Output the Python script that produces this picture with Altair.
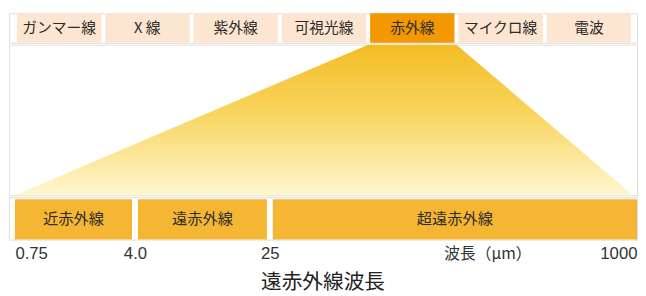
import altair as alt
import pandas as pd

# ---- data ----
spectrum = ["ガンマー線", "X 線", "紫外線", "可視光線", "赤外線", "マイクロ線", "電波"]
highlight = "赤外線"
ir_bands = ["近赤外線", "遠赤外線", "超遠赤外線"]
band_start = [0.75, 4.0, 25]
band_end = [4.0, 25, 1000]
tick_values = [0.75, 4.0, 25, 1000]
tick_labels = ["0.75", "4.0", "25", "1000"]
axis_title = "波長（μm）"
chart_title = "遠赤外線波長"

JP = "Noto Sans CJK JP"
W = 638
n = len(spectrum)

top_df = pd.DataFrame({"name": spectrum, "i": list(range(n))})
top_df["i1"] = top_df["i"] + 1
top_df["mid"] = top_df["i"] + 0.5

hi = spectrum.index(highlight)
funnel_df = pd.DataFrame({"level": [1, 0], "lo": [hi, 0], "hi": [hi + 1, n]})

ir_df = pd.DataFrame({"name": ir_bands, "start": band_start, "end": band_end})
ir_df["mid"] = (ir_df["start"] + ir_df["end"]) / 2

idx_scale = alt.Scale(domain=[0, n], range=[6, 634], nice=False, zero=False)
wl_scale = alt.Scale(type="linear", domain=tick_values, range=[3, 128, 265, 641], nice=False, zero=False)

# ---- top row ----
top_rect = alt.Chart(top_df).mark_rect(xOffset=2, x2Offset=-2).encode(
    x=alt.X("i:Q", scale=idx_scale, axis=None),
    x2="i1:Q",
    color=alt.condition(alt.datum.name == highlight, alt.value("#f39800"), alt.value("#fce5d1")),
)
top_text = alt.Chart(top_df).mark_text(font=JP, fontSize=15, color="#2b2b2b").encode(
    x=alt.X("mid:Q", scale=idx_scale, axis=None),
    text="name:N",
)
panel_a = alt.layer(top_rect, top_text).properties(width=W, height=30)

# ---- funnel ----
grad = alt.Gradient(
    gradient="linear",
    stops=[
        alt.GradientStop(color="#f4bc25", offset=0),
        alt.GradientStop(color="#f8d55e", offset=0.45),
        alt.GradientStop(color="#fff7d0", offset=1),
    ],
    x1=0, x2=0, y1=0, y2=1,
)
panel_b = alt.Chart(funnel_df).mark_area(orient="horizontal", color=grad).encode(
    y=alt.Y("level:Q", scale=alt.Scale(domain=[0, 1], nice=False), axis=None),
    x=alt.X("lo:Q", scale=idx_scale, axis=None),
    x2="hi:Q",
).properties(width=W, height=153)

# ---- IR bands ----
label_expr = "".join(
    f"datum.value == {v} ? '{l}' : " for v, l in zip(tick_values, tick_labels)
) + "''"

ir_rect = alt.Chart(ir_df).mark_rect(xOffset=3, x2Offset=-3, yOffset=2, color="#f5b633").encode(
    x=alt.X(
        "start:Q",
        scale=wl_scale,
        axis=alt.Axis(
            values=tick_values,
            labelExpr=label_expr,
            labelFlush=True,
            labelFlushOffset=-3,
            ticks=False,
            domain=False,
            grid=False,
            labelFont="Liberation Sans",
            labelFontSize=17,
            labelColor="#333333",
            labelPadding=6,
            title=axis_title,
            titleFont=JP,
            titleFontSize=16,
            titleFontWeight="normal",
            titleColor="#333333",
            titleX=486,
            titleY=6,
            titleAlign="center",
            titleBaseline="top",
        ),
    ),
    x2="end:Q",
)
ir_text = alt.Chart(ir_df).mark_text(font=JP, fontSize=15.5, color="#2b2b2b", dy=1).encode(
    x=alt.X("mid:Q", scale=wl_scale),
    text="name:N",
)
panel_c = alt.layer(ir_rect, ir_text).properties(width=W, height=43)

chart = alt.vconcat(panel_a, panel_b, panel_c, spacing=0).properties(
    title=alt.TitleParams(
        chart_title,
        orient="bottom",
        anchor="middle",
        font=JP,
        fontSize=21,
        fontWeight="normal",
        color="#222222",
        offset=11,
    ),
    padding={"left": 0, "top": 2, "right": 0, "bottom": 0},
).configure_view(stroke=None).configure(background="white")

chart.save("out.html", embed_options={"renderer": "svg", "actions": False})
